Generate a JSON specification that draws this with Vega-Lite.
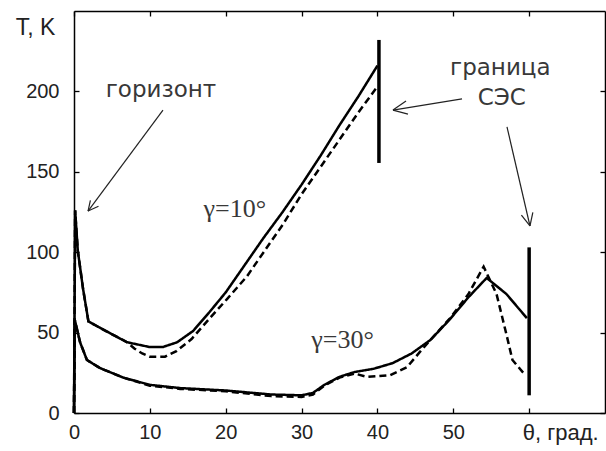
{
  "$schema": "https://vega.github.io/schema/vega-lite/v6.json",
  "width": 531,
  "height": 402,
  "autosize": {"type": "none"},
  "padding": {"left": 74, "top": 11, "right": 1, "bottom": 38},
  "background": "white",
  "config": {
    "view": {"stroke": null},
    "axis": {
      "domainColor": "#000",
      "domainWidth": 1.5,
      "tickColor": "#000",
      "tickWidth": 1.3,
      "tickSize": -5,
      "grid": false,
      "labelFlush": false,
      "labelFont": "Liberation Sans",
      "labelFontSize": 20,
      "labelColor": "#222",
      "titleFont": "Liberation Sans"
    }
  },
  "datasets": {
    "curves": [
      {"s": "g10s", "st": "solid", "theta": 0, "T": 0},
      {"s": "g10s", "st": "solid", "theta": 0.15, "T": 126},
      {"s": "g10s", "st": "solid", "theta": 0.5, "T": 101},
      {"s": "g10s", "st": "solid", "theta": 1.2, "T": 77},
      {"s": "g10s", "st": "solid", "theta": 1.9, "T": 57},
      {"s": "g10s", "st": "solid", "theta": 3.8, "T": 52},
      {"s": "g10s", "st": "solid", "theta": 7, "T": 44},
      {"s": "g10s", "st": "solid", "theta": 10, "T": 41},
      {"s": "g10s", "st": "solid", "theta": 11.7, "T": 41},
      {"s": "g10s", "st": "solid", "theta": 13.6, "T": 44},
      {"s": "g10s", "st": "solid", "theta": 15.7, "T": 51},
      {"s": "g10s", "st": "solid", "theta": 17.9, "T": 63},
      {"s": "g10s", "st": "solid", "theta": 20, "T": 75},
      {"s": "g10s", "st": "solid", "theta": 22.5, "T": 92},
      {"s": "g10s", "st": "solid", "theta": 25, "T": 109},
      {"s": "g10s", "st": "solid", "theta": 27.5, "T": 125},
      {"s": "g10s", "st": "solid", "theta": 30, "T": 142},
      {"s": "g10s", "st": "solid", "theta": 32.5, "T": 160},
      {"s": "g10s", "st": "solid", "theta": 35, "T": 179},
      {"s": "g10s", "st": "solid", "theta": 37.5, "T": 197},
      {"s": "g10s", "st": "solid", "theta": 40, "T": 216},
      {"s": "g10d", "st": "dashed", "theta": 0, "T": 0},
      {"s": "g10d", "st": "dashed", "theta": 0.15, "T": 126},
      {"s": "g10d", "st": "dashed", "theta": 0.5, "T": 101},
      {"s": "g10d", "st": "dashed", "theta": 1.2, "T": 77},
      {"s": "g10d", "st": "dashed", "theta": 1.9, "T": 57},
      {"s": "g10d", "st": "dashed", "theta": 3.8, "T": 52},
      {"s": "g10d", "st": "dashed", "theta": 7, "T": 44},
      {"s": "g10d", "st": "dashed", "theta": 8, "T": 40},
      {"s": "g10d", "st": "dashed", "theta": 9, "T": 37},
      {"s": "g10d", "st": "dashed", "theta": 10, "T": 35},
      {"s": "g10d", "st": "dashed", "theta": 12, "T": 35},
      {"s": "g10d", "st": "dashed", "theta": 13.5, "T": 38.5},
      {"s": "g10d", "st": "dashed", "theta": 15.5, "T": 46},
      {"s": "g10d", "st": "dashed", "theta": 17.9, "T": 59},
      {"s": "g10d", "st": "dashed", "theta": 20.2, "T": 71},
      {"s": "g10d", "st": "dashed", "theta": 22.8, "T": 85},
      {"s": "g10d", "st": "dashed", "theta": 25, "T": 100},
      {"s": "g10d", "st": "dashed", "theta": 27.5, "T": 117},
      {"s": "g10d", "st": "dashed", "theta": 30, "T": 136},
      {"s": "g10d", "st": "dashed", "theta": 32.5, "T": 153},
      {"s": "g10d", "st": "dashed", "theta": 35, "T": 170},
      {"s": "g10d", "st": "dashed", "theta": 37.5, "T": 187},
      {"s": "g10d", "st": "dashed", "theta": 40, "T": 203},
      {"s": "g30s", "st": "solid", "theta": 0, "T": 0},
      {"s": "g30s", "st": "solid", "theta": 0.1, "T": 58},
      {"s": "g30s", "st": "solid", "theta": 0.8, "T": 44},
      {"s": "g30s", "st": "solid", "theta": 1.7, "T": 33},
      {"s": "g30s", "st": "solid", "theta": 3.4, "T": 28},
      {"s": "g30s", "st": "solid", "theta": 6.5, "T": 22},
      {"s": "g30s", "st": "solid", "theta": 10, "T": 17.5},
      {"s": "g30s", "st": "solid", "theta": 14, "T": 15.5},
      {"s": "g30s", "st": "solid", "theta": 20, "T": 14},
      {"s": "g30s", "st": "solid", "theta": 26, "T": 11.5},
      {"s": "g30s", "st": "solid", "theta": 30, "T": 11},
      {"s": "g30s", "st": "solid", "theta": 31.5, "T": 12.5},
      {"s": "g30s", "st": "solid", "theta": 33, "T": 17.5},
      {"s": "g30s", "st": "solid", "theta": 35, "T": 22.5},
      {"s": "g30s", "st": "solid", "theta": 37, "T": 25.5},
      {"s": "g30s", "st": "solid", "theta": 39.5, "T": 27.5},
      {"s": "g30s", "st": "solid", "theta": 42, "T": 31},
      {"s": "g30s", "st": "solid", "theta": 44.5, "T": 37},
      {"s": "g30s", "st": "solid", "theta": 47, "T": 45.5},
      {"s": "g30s", "st": "solid", "theta": 49.5, "T": 58},
      {"s": "g30s", "st": "solid", "theta": 52, "T": 72},
      {"s": "g30s", "st": "solid", "theta": 54.4, "T": 84},
      {"s": "g30s", "st": "solid", "theta": 57, "T": 74},
      {"s": "g30s", "st": "solid", "theta": 59.7, "T": 59},
      {"s": "g30d", "st": "dashed", "theta": 0, "T": 0},
      {"s": "g30d", "st": "dashed", "theta": 0.1, "T": 58},
      {"s": "g30d", "st": "dashed", "theta": 0.8, "T": 44},
      {"s": "g30d", "st": "dashed", "theta": 1.7, "T": 33},
      {"s": "g30d", "st": "dashed", "theta": 3.4, "T": 28},
      {"s": "g30d", "st": "dashed", "theta": 6.5, "T": 22},
      {"s": "g30d", "st": "dashed", "theta": 10, "T": 17},
      {"s": "g30d", "st": "dashed", "theta": 14, "T": 15},
      {"s": "g30d", "st": "dashed", "theta": 20, "T": 13.5},
      {"s": "g30d", "st": "dashed", "theta": 26, "T": 10.5},
      {"s": "g30d", "st": "dashed", "theta": 30, "T": 10},
      {"s": "g30d", "st": "dashed", "theta": 31.5, "T": 11.5},
      {"s": "g30d", "st": "dashed", "theta": 33, "T": 17},
      {"s": "g30d", "st": "dashed", "theta": 35, "T": 22},
      {"s": "g30d", "st": "dashed", "theta": 37, "T": 24.5},
      {"s": "g30d", "st": "dashed", "theta": 38.6, "T": 22.5},
      {"s": "g30d", "st": "dashed", "theta": 41.7, "T": 23.5},
      {"s": "g30d", "st": "dashed", "theta": 43.9, "T": 28.5},
      {"s": "g30d", "st": "dashed", "theta": 45.6, "T": 38},
      {"s": "g30d", "st": "dashed", "theta": 47, "T": 45.5},
      {"s": "g30d", "st": "dashed", "theta": 49.5, "T": 58.5},
      {"s": "g30d", "st": "dashed", "theta": 52, "T": 74},
      {"s": "g30d", "st": "dashed", "theta": 54, "T": 91},
      {"s": "g30d", "st": "dashed", "theta": 55.7, "T": 74},
      {"s": "g30d", "st": "dashed", "theta": 57, "T": 49},
      {"s": "g30d", "st": "dashed", "theta": 57.8, "T": 33},
      {"s": "g30d", "st": "dashed", "theta": 59.4, "T": 24}
    ],
    "bars": [
      {"theta": 40.2, "T1": 155.5, "T2": 232},
      {"theta": 60, "T1": 11, "T2": 103}
    ],
    "arrows": [
      {"x1": 11.73, "y1": 188.4, "x2": 1.85, "y2": 125.6},
      {"x1": 1.85, "y1": 125.6, "x2": 3.23, "y2": 128.6},
      {"x1": 1.85, "y1": 125.6, "x2": 2.16, "y2": 132.3},
      {"x1": 51.15, "y1": 195.3, "x2": 42.05, "y2": 188.4},
      {"x1": 42.05, "y1": 188.4, "x2": 44.03, "y2": 185.9},
      {"x1": 42.05, "y1": 188.4, "x2": 43.77, "y2": 194.0},
      {"x1": 57.08, "y1": 177.9, "x2": 60.11, "y2": 116.3},
      {"x1": 60.11, "y1": 116.3, "x2": 60.49, "y2": 124.8},
      {"x1": 60.11, "y1": 116.3, "x2": 58.98, "y2": 123.1}
    ],
    "sansLabels": [
      {"label": "горизонт", "theta": 11.47, "T": 196.5},
      {"label": "граница", "theta": 56.2, "T": 210},
      {"label": "СЭС", "theta": 56.4, "T": 191.5}
    ],
    "serifLabels": [
      {"label": "γ=10°", "theta": 21.2, "T": 121.9},
      {"label": "γ=30°", "theta": 35.4, "T": 40.4}
    ]
  },
  "resolve": {"axis": {"x": "independent", "y": "independent"}},
  "layer": [
    {
      "data": {"name": "curves"},
      "mark": {"type": "line", "color": "black", "strokeWidth": 2.5},
      "encoding": {
        "x": {
          "field": "theta", "type": "quantitative",
          "scale": {"domain": [0, 70], "nice": false, "zero": false},
          "axis": {
            "orient": "bottom",
            "values": [0, 10, 20, 30, 40, 50, 60],
            "title": null,
            "labelPadding": 14,
            "labelExpr": "datum.value == 60 ? 'θ, град.' : datum.label",
            "labelFontSize": {"condition": {"test": "datum.value == 60", "value": 22}, "value": 20},
            "labelOffset": {"condition": {"test": "datum.value == 60", "value": 31}, "value": 0}
          }
        },
        "y": {
          "field": "T", "type": "quantitative",
          "scale": {"domain": [0, 250], "nice": false, "zero": false},
          "axis": {
            "orient": "left",
            "values": [0, 50, 100, 150, 200],
            "labelPadding": 20,
            "title": "T, K",
            "titleAngle": 0,
            "titleX": -39,
            "titleY": 16,
            "titleAlign": "center",
            "titleBaseline": "middle",
            "titleFontSize": 23,
            "titleFontWeight": "normal",
            "titleColor": "#222"
          }
        },
        "detail": {"field": "s"},
        "strokeDash": {
          "field": "st", "type": "nominal",
          "scale": {"domain": ["solid", "dashed"], "range": [[1, 0], [7, 4]]},
          "legend": null
        }
      }
    },
    {
      "data": {"name": "bars"},
      "mark": {"type": "rule", "color": "black", "strokeWidth": 3.5},
      "encoding": {
        "x": {
          "field": "theta", "type": "quantitative",
          "axis": {"orient": "top", "values": [0, 10, 20, 30, 40, 50, 60], "labels": false, "title": null}
        },
        "y": {
          "field": "T1", "type": "quantitative",
          "axis": {"orient": "right", "values": [0, 50, 100, 150, 200], "labels": false, "title": null}
        },
        "y2": {"field": "T2"}
      }
    },
    {
      "data": {"name": "arrows"},
      "mark": {"type": "rule", "color": "#222", "strokeWidth": 1.2},
      "encoding": {
        "x": {"field": "x1", "type": "quantitative", "axis": null},
        "y": {"field": "y1", "type": "quantitative", "axis": null},
        "x2": {"field": "x2"},
        "y2": {"field": "y2"}
      }
    },
    {
      "data": {"name": "sansLabels"},
      "mark": {"type": "text", "font": "DejaVu Sans", "fontSize": 23, "color": "#383838", "align": "center", "baseline": "alphabetic"},
      "encoding": {
        "x": {"field": "theta", "type": "quantitative", "axis": null},
        "y": {"field": "T", "type": "quantitative", "axis": null},
        "text": {"field": "label"}
      }
    },
    {
      "data": {"name": "serifLabels"},
      "mark": {"type": "text", "font": "Liberation Serif", "fontSize": 26, "color": "#383838", "align": "center", "baseline": "alphabetic"},
      "encoding": {
        "x": {"field": "theta", "type": "quantitative", "axis": null},
        "y": {"field": "T", "type": "quantitative", "axis": null},
        "text": {"field": "label"}
      }
    }
  ]
}
